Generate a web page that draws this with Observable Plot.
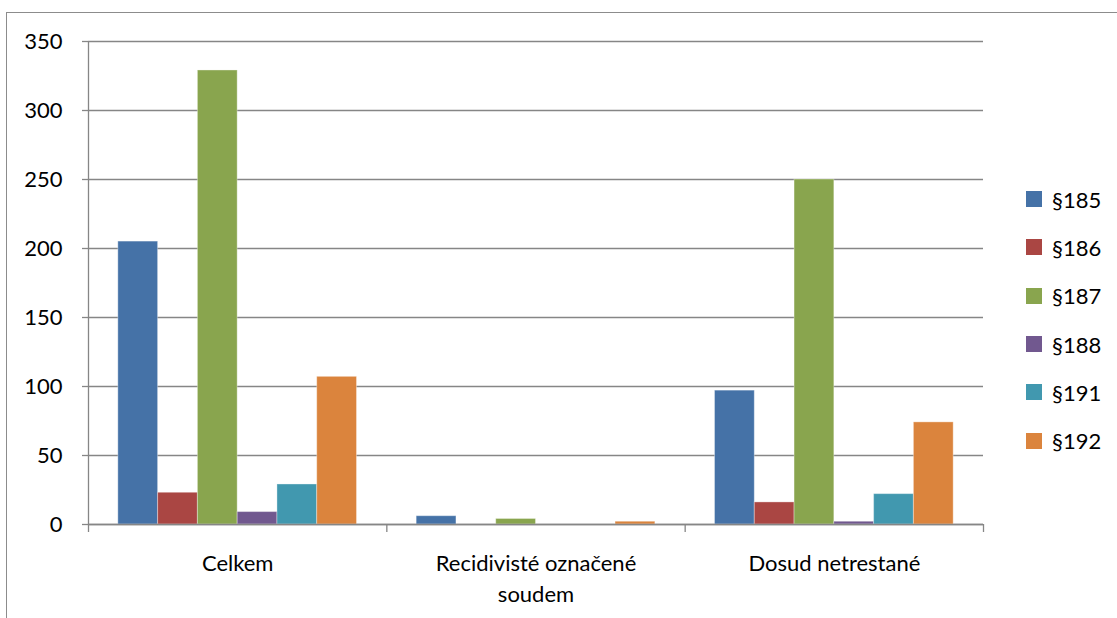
<!DOCTYPE html>
<html>
<head>
<meta charset="utf-8">
<script src="https://cdn.jsdelivr.net/npm/d3@7"></script>
<script src="https://cdn.jsdelivr.net/npm/@observablehq/plot@0.6"></script>
<style>
  html, body { margin: 0; padding: 0; background: #fff; overflow: hidden; }
  #wrap { position: relative; width: 1117px; height: 618px; }
  #border { position: absolute; left: 6px; top: 12px; width: 1200px; height: 700px; border: 1.5px solid #8c8c8c; box-sizing: border-box; }
  #chart { position: absolute; left: 0; top: 0; }
  #legend { position: absolute; left: 1026px; top: 175px; font-family: Lato, sans-serif; font-size: 22px; color: #000; }
  #legend .row { display: flex; align-items: center; height: 48.3px; }
  #legend .sw { width: 16px; height: 16px; margin-right: 10px; }
</style>
</head>
<body>
<div id="wrap">
  <div id="border"></div>
  <div id="chart"></div>
  <div id="legend"></div>
</div>
<script>
const categories = ["Celkem", "Recidivisté označené soudem", "Dosud netrestané"];
const series = ["§185", "§186", "§187", "§188", "§191", "§192"];
const v185 = [205, 6, 97];
const v186 = [23, 0, 16];
const v187 = [329, 4, 250];
const v188 = [9, 0, 2];
const v191 = [29, 0, 22];
const v192 = [107, 2, 74];
const yTicks = [0, 50, 100, 150, 200, 250, 300, 350];
const colors = ["#4572A7", "#AA4643", "#89A54E", "#71588F", "#4198AF", "#DB843D"];

const seriesValues = [v185, v186, v187, v188, v191, v192];
const gapWidth = 1.5; // Excel-style gap width (fraction of a bar)
const slots = series.length + gapWidth;

const rows = [];
categories.forEach((c, ci) => {
  series.forEach((s, si) => {
    rows.push({category: c, ci, series: s, si, value: seriesValues[si][ci]});
  });
});

const chart = Plot.plot({
  width: 1117,
  height: 618,
  marginLeft: 88,
  marginRight: 134,
  marginTop: 41,
  marginBottom: 94,
  style: {fontFamily: "Lato, sans-serif", fontSize: "22px", color: "#000", background: "transparent"},
  x: {domain: [0, categories.length], axis: null},
  y: {domain: [0, 350], axis: null},
  color: {domain: series, range: colors},
  marks: [
    Plot.gridY(yTicks, {stroke: "#868686", strokeOpacity: 1, strokeWidth: 1.3}),
    Plot.rectY(rows, {
      x1: d => d.ci + (gapWidth / 2 + d.si) / slots,
      x2: d => d.ci + (gapWidth / 2 + d.si + 1) / slots,
      y1: 0,
      y2: "value",
      fill: "series",
      stroke: "#ffffff",
      strokeOpacity: 0.35,
      strokeWidth: 1
    }),
    Plot.ruleY([0], {stroke: "#868686", strokeWidth: 1.3}),
    Plot.ruleX([0], {y1: 0, y2: 350, stroke: "#868686", strokeWidth: 1.3}),
    Plot.axisY(yTicks, {tickSize: 6, tickPadding: 20, stroke: "#868686", strokeWidth: 1.3, fontSize: 22, tickFormat: d => d, label: null}),
    Plot.axisX(d3.range(categories.length + 1), {tickSize: 8, tickFormat: () => "", stroke: "#868686", strokeWidth: 1.3, label: null}),
    Plot.text(categories, {
      x: (d, i) => i + 0.5,
      y: 0,
      text: d => d,
      dy: 25,
      lineAnchor: "top",
      lineWidth: 13,
      lineHeight: 1.4,
      fontSize: 22,
      fill: "#000"
    })
  ]
});
document.getElementById("chart").appendChild(chart);

const legend = document.getElementById("legend");
series.forEach((s, i) => {
  const row = document.createElement("div");
  row.className = "row";
  const sw = document.createElement("div");
  sw.className = "sw";
  sw.style.background = colors[i];
  const t = document.createElement("span");
  t.textContent = s;
  row.appendChild(sw);
  row.appendChild(t);
  legend.appendChild(row);
});
</script>
</body>
</html>
